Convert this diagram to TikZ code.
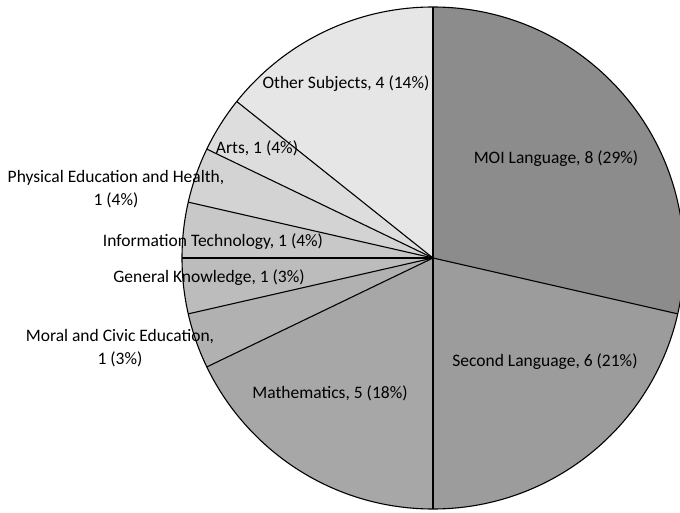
\documentclass[tikz,border=0pt]{standalone}
\usepackage{fontspec}
\setmainfont{Carlito}
\begin{document}
\begin{tikzpicture}[x=1pt,y=-1pt,
  slice/.style={draw=black,line width=1.1pt,line join=round},
  lbl/.style={font=\fontsize{17.5}{23}\selectfont,inner sep=0pt,align=center}]
\useasboundingbox (0,0) rectangle (680,513);
\clip (0,0) rectangle (680,513);
\coordinate (c) at (433,258);
\def\R{251}
\def\u{12.857142857}
\newcommand\pieslice[3]{%
  \pgfmathsetmacro\sa{#1*\u-90}\pgfmathsetmacro\ea{#2*\u-90}%
  \fill[#3] (c) -- ++(\sa:\R) arc[start angle=\sa,end angle=\ea,radius=\R] -- cycle;}
\pieslice{0}{8}{color={rgb,255:red,140;green,140;blue,140}}
\pieslice{8}{14}{color={rgb,255:red,155;green,156;blue,155}}
\pieslice{14}{19}{color={rgb,255:red,166;green,167;blue,166}}
\pieslice{19}{20}{color={rgb,255:red,177;green,177;blue,177}}
\pieslice{20}{21}{color={rgb,255:red,188;green,188;blue,188}}
\pieslice{21}{22}{color={rgb,255:red,200;green,200;blue,200}}
\pieslice{22}{23}{color={rgb,255:red,210;green,211;blue,210}}
\pieslice{23}{24}{color={rgb,255:red,220;green,221;blue,220}}
\pieslice{24}{28}{color={rgb,255:red,230;green,230;blue,230}}
\foreach \k in {0,8,14,19,20,21,22,23,24}{
  \pgfmathsetmacro\ang{\k*\u-90}
  \draw[slice] (c) -- ++(\ang:\R);
}
\draw[slice] (c) circle[radius=\R];
\node[lbl] (moi) at (556,159) {MOI Language, 8 (29\%)};
\node[lbl] (sec) at (545,362) {Second Language, 6 (21\%)};
\node[lbl] (mat) at (330,393) {Mathematics, 5 (18\%)};
\node[lbl] (mor) at (120,348) {Moral and Civic Education,\\1 (3\%)};
\node[lbl] (gk) at (209,278) {General Knowledge, 1 (3\%)};
\node[lbl] (it) at (213,242) {Information Technology, 1 (4\%)};
\node[lbl] (pe) at (116,189) {Physical Education and Health,\\1 (4\%)};
\node[lbl] (arts) at (257,148) {Arts, 1 (4\%)};
\node[lbl] (oth) at (346,84) {Other Subjects, 4 (14\%)};
\end{tikzpicture}
\end{document}
